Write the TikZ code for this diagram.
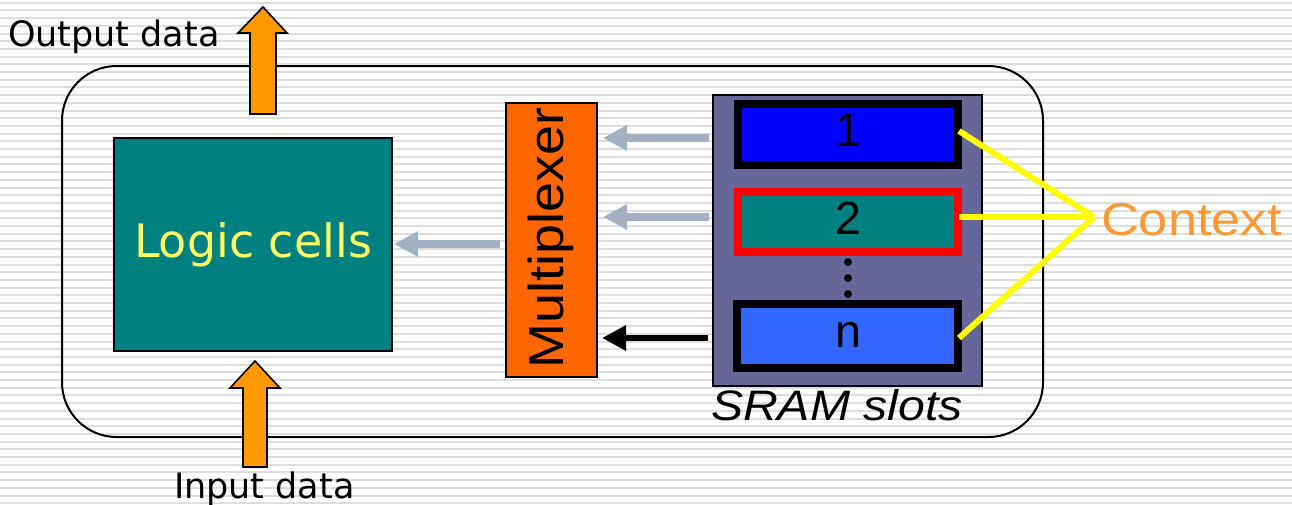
\documentclass[tikz,border=0pt]{standalone}
\usepackage{fontspec}
\usepackage{graphicx}
\usetikzlibrary{arrows.meta}
\newfontfamily\tahfont{DejaVu Sans}
\newfontfamily\arifont{Liberation Sans}
\definecolor{tealc}{HTML}{008080}
\definecolor{muxorange}{HTML}{FF6600}
\definecolor{arrorange}{HTML}{FF9900}
\definecolor{srampanel}{HTML}{666699}
\definecolor{slotblue}{HTML}{0000FF}
\definecolor{slotlblue}{HTML}{3366FF}
\definecolor{slotred}{HTML}{FF0000}
\definecolor{logictext}{HTML}{FFFF66}
\definecolor{ctxorange}{HTML}{FF9933}
\definecolor{arrgray}{HTML}{A3B0C1}
\definecolor{stripec}{HTML}{DEDEDE}
\definecolor{ctxyellow}{HTML}{FFFF00}
\begin{document}
\begin{tikzpicture}[x=0.75pt,y=-0.75pt,
  stripe/.style={draw=stripec,line width=1.5pt},
  box/.style={draw=black,line width=1.5pt,inner sep=0pt},
  slotbox/.style={draw=black,line width=6pt,inner sep=0pt,minimum width=165pt},
  txt/.style={inner sep=0pt,outer sep=0pt},
  grayarr/.style={draw=arrgray,line width=6pt,-{Triangle[length=18pt,width=18pt]}},
  blackarr/.style={draw=black,line width=4.5pt,-{Triangle[length=18pt,width=18pt]}},
  blockarrow/.style={fill=arrorange,draw=black,line width=1.2pt,line join=miter},
  ctxline/.style={draw=ctxyellow,line width=4.5pt}
]
\useasboundingbox (0,0) rectangle (1292,504);
\fill[white] (0,0) rectangle (1292,504);
\foreach \i in {0,...,65}{
  \draw[stripe] (0,{2.7+7.7*\i}) -- (1292,{2.7+7.7*\i});
}
% outer frame
\draw[black,line width=1.5pt,rounded corners=41pt] (62,66) rectangle (1043,437);

% logic cells
\node[box,fill=tealc,minimum width=208.5pt,minimum height=159.75pt] (logic) at (253,244.5) {};
\node[txt,anchor=base,text=logictext] (logictxt) at (253,257)
  {\tahfont\fontsize{34.5}{40}\selectfont Logic cells};

% multiplexer
\node[box,fill=muxorange,minimum width=68.25pt,minimum height=205.5pt] (mux) at (551.5,240) {};
\node[txt,rotate=90] (muxtxt) at (551,238)
  {\scalebox{1.1}[1]{\arifont\fontsize{36.75}{42}\selectfont Multiplexer}};

% SRAM panel
\node[draw=black,line width=1.1pt,fill=srampanel,inner sep=0pt,minimum width=201.75pt,minimum height=218.25pt] (sram) at (847.5,240.5) {};
\node[slotbox,fill=slotblue,minimum height=45.75pt] (s1) at (848,134.5) {};
\node[slotbox,draw=slotred,fill=tealc,minimum height=45pt] (s2) at (848,222) {};
\node[slotbox,fill=slotlblue,minimum height=48pt,minimum width=165.75pt] (sn) at (847.5,336) {};
\node[txt] (t1) at (848,130) {\arifont\fontsize{35}{40}\selectfont 1};
\node[txt] (t2) at (848,218.5) {\arifont\fontsize{35}{40}\selectfont 2};
\node[txt] (tn) at (848,335) {\arifont\fontsize{35}{40}\selectfont n};
\fill[black] (848,262) circle[radius=3pt] (848,278) circle[radius=3pt] (848,294) circle[radius=3pt];
\node[txt,anchor=base west] (sramtxt) at (711,420)
  {\scalebox{1.13}[1]{\arifont\itshape\fontsize{32}{36}\selectfont SRAM slots}};

% arrows slots -> mux
\coordinate (a1s) at (709,138); \coordinate (a1e) at (603,138);
\coordinate (a2s) at (709,217); \coordinate (a2e) at (603,217);
\coordinate (ans) at (708,338); \coordinate (ane) at (602,338);
\draw[grayarr] (a1s) -- (a1e);
\draw[grayarr] (a2s) -- (a2e);
\draw[blackarr] (ans) -- (ane);
% mux -> logic
\coordinate (mls) at (500,244); \coordinate (mle) at (394,244);
\draw[grayarr] (mls) -- (mle);

% context
\node[txt,anchor=base west,text=ctxorange] (ctxt) at (1101,235)
  {\scalebox{1.14}[1]{\arifont\fontsize{34.5}{40}\selectfont Context}};
\coordinate (j) at (1094,217);
\draw[ctxline] (959,131) -- (j);
\draw[ctxline] (959,217) -- (j);
\draw[ctxline] (959,338) -- (j);

% block arrows
\draw[blockarrow] (250,114) -- (250,33) -- (238,33) -- (263,7) -- (287,33) -- (276,33) -- (276,114) -- cycle;
\draw[blockarrow] (243,467) -- (243,388) -- (230,388) -- (255,361) -- (280,388) -- (267,388) -- (267,467) -- cycle;

\node[txt,anchor=base west] (outtxt) at (8,46) {\tahfont\fontsize{26.25}{30}\selectfont Output data};
\node[txt,anchor=base west] (intxt) at (174,498) {\tahfont\fontsize{26.25}{30}\selectfont Input data};
\end{tikzpicture}
\end{document}
